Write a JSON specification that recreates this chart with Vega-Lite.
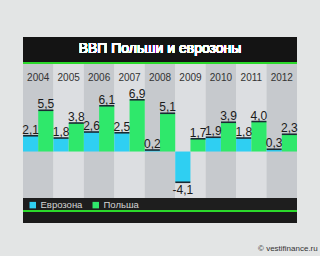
{
  "$schema": "https://vega.github.io/schema/vega-lite/v6.json",
  "autosize": {"type": "none"},
  "width": 274,
  "height": 186,
  "padding": {"left": 23, "top": 37, "right": 23, "bottom": 33},
  "background": "#e3e5e5",
  "title": {"text": "© vestifinance.ru", "orient": "bottom", "anchor": "end", "offset": 22, "dx": 20, "fontSize": 8, "fontWeight": "normal", "color": "#333333", "font": "Liberation Sans"},
  "config": {"view": {"stroke": null}},
  "data": {"values": [
    {"year": "2004", "series": "Еврозона", "value": 2.1, "label": "2,1"},
    {"year": "2004", "series": "Польша", "value": 5.5, "label": "5,5"},
    {"year": "2005", "series": "Еврозона", "value": 1.8, "label": "1,8"},
    {"year": "2005", "series": "Польша", "value": 3.8, "label": "3,8"},
    {"year": "2006", "series": "Еврозона", "value": 2.6, "label": "2,6"},
    {"year": "2006", "series": "Польша", "value": 6.1, "label": "6,1"},
    {"year": "2007", "series": "Еврозона", "value": 2.5, "label": "2,5"},
    {"year": "2007", "series": "Польша", "value": 6.9, "label": "6,9"},
    {"year": "2008", "series": "Еврозона", "value": 0.2, "label": "0,2"},
    {"year": "2008", "series": "Польша", "value": 5.1, "label": "5,1"},
    {"year": "2009", "series": "Еврозона", "value": -4.1, "label": "-4,1"},
    {"year": "2009", "series": "Польша", "value": 1.7, "label": "1,7"},
    {"year": "2010", "series": "Еврозона", "value": 1.9, "label": "1,9"},
    {"year": "2010", "series": "Польша", "value": 3.9, "label": "3,9"},
    {"year": "2011", "series": "Еврозона", "value": 1.8, "label": "1,8"},
    {"year": "2011", "series": "Польша", "value": 4.0, "label": "4,0"},
    {"year": "2012", "series": "Еврозона", "value": 0.3, "label": "0,3"},
    {"year": "2012", "series": "Польша", "value": 2.3, "label": "2,3"}
  ]},
  "resolve": {"scale": {"color": "independent"}},
  "encoding": {
    "x": {"field": "year", "type": "nominal", "scale": {"paddingInner": 0, "paddingOuter": 0}, "axis": null, "sort": null}
  },
  "layer": [
    {
      "mark": {"type": "rect", "color": "#141414"},
      "encoding": {"x": null, "y": {"datum": 15.27, "type": "quantitative", "scale": {"domain": [-9.53, 15.27], "nice": false, "zero": false}, "axis": null}, "y2": {"datum": 11.93}}
    },
    {
      "mark": {"type": "rect", "color": "#2bd92b"},
      "encoding": {"x": null, "y": {"datum": 11.93, "type": "quantitative"}, "y2": {"datum": 11.67}}
    },
    {
      "transform": [{"filter": "datum.series == 'Еврозона'"}],
      "mark": {"type": "rect"},
      "encoding": {
        "y": {"datum": 11.67, "type": "quantitative"},
        "y2": {"datum": -6.2},
        "color": {"condition": {"test": "toNumber(datum.year) % 2 == 0", "value": "#c6c9cd"}, "value": "#dcdee1"}
      }
    },
    {
      "mark": {"type": "bar"},
      "encoding": {
        "xOffset": {"field": "series", "type": "nominal", "scale": {"paddingInner": 0, "paddingOuter": 0}},
        "y": {"field": "value", "type": "quantitative"},
        "y2": {"datum": 0},
        "color": {"field": "series", "type": "nominal", "scale": {"domain": ["Еврозона", "Польша"], "range": ["#2fcff2", "#2fe86b"]},
          "legend": {"title": null, "orient": "none", "legendX": 5, "legendY": 163, "direction": "horizontal", "symbolType": "square", "symbolSize": 42, "symbolStrokeWidth": 0, "symbolOpacity": 1, "labelColor": "#d5d5d5", "labelFontSize": 9.5, "labelFont": "Liberation Sans", "labelFontWeight": "normal", "columnPadding": 8, "labelOffset": 3, "padding": 0}}
      }
    },
    {
      "mark": {"type": "tick", "color": "#1a2a33", "thickness": 1.6, "size": 15, "opacity": 1},
      "encoding": {
        "xOffset": {"field": "series", "type": "nominal"},
        "y": {"field": "value", "type": "quantitative"}
      }
    },
    {
      "transform": [{"filter": "datum.value >= 0"}],
      "mark": {"type": "text", "baseline": "alphabetic", "dy": -2, "fontSize": 12, "fontWeight": "normal", "font": "Liberation Sans", "color": "#1a1a1a"},
      "encoding": {
        "xOffset": {"field": "series", "type": "nominal"},
        "y": {"field": "value", "type": "quantitative"},
        "text": {"field": "label"}
      }
    },
    {
      "transform": [{"filter": "datum.value < 0"}],
      "mark": {"type": "text", "baseline": "top", "dy": 3, "fontSize": 12, "fontWeight": "normal", "font": "Liberation Sans", "color": "#1a1a1a"},
      "encoding": {
        "xOffset": {"field": "series", "type": "nominal"},
        "y": {"field": "value", "type": "quantitative"},
        "text": {"field": "label"}
      }
    },
    {
      "transform": [{"filter": "datum.series == 'Еврозона'"}],
      "mark": {"type": "text", "baseline": "alphabetic", "fontSize": 10, "fontWeight": "normal", "font": "Liberation Sans", "color": "#333333"},
      "encoding": {
        "y": {"datum": 9.4, "type": "quantitative"},
        "text": {"field": "year"}
      }
    },
    {
      "mark": {"type": "rect", "color": "#1e1e1e"},
      "encoding": {"x": null, "y": {"datum": -6.2, "type": "quantitative"}, "y2": {"datum": -7.8}}
    },
    {
      "mark": {"type": "rect", "color": "#2bd92b"},
      "encoding": {"x": null, "y": {"datum": -7.8, "type": "quantitative"}, "y2": {"datum": -8.13}}
    },
    {
      "mark": {"type": "rect", "color": "#1a1a1a"},
      "encoding": {"x": null, "y": {"datum": -8.13, "type": "quantitative"}, "y2": {"datum": -9.53}}
    },
    {
      "mark": {"type": "text", "baseline": "alphabetic", "fontSize": 14, "fontWeight": "normal", "font": "Liberation Sans", "color": "#ffffff"},
      "encoding": {
        "x": {"datum": "2008", "type": "nominal"},
        "y": {"datum": 13.13, "type": "quantitative"},
        "text": {"value": "ВВП Польши и еврозоны"}
      }
    }
  ]
}
